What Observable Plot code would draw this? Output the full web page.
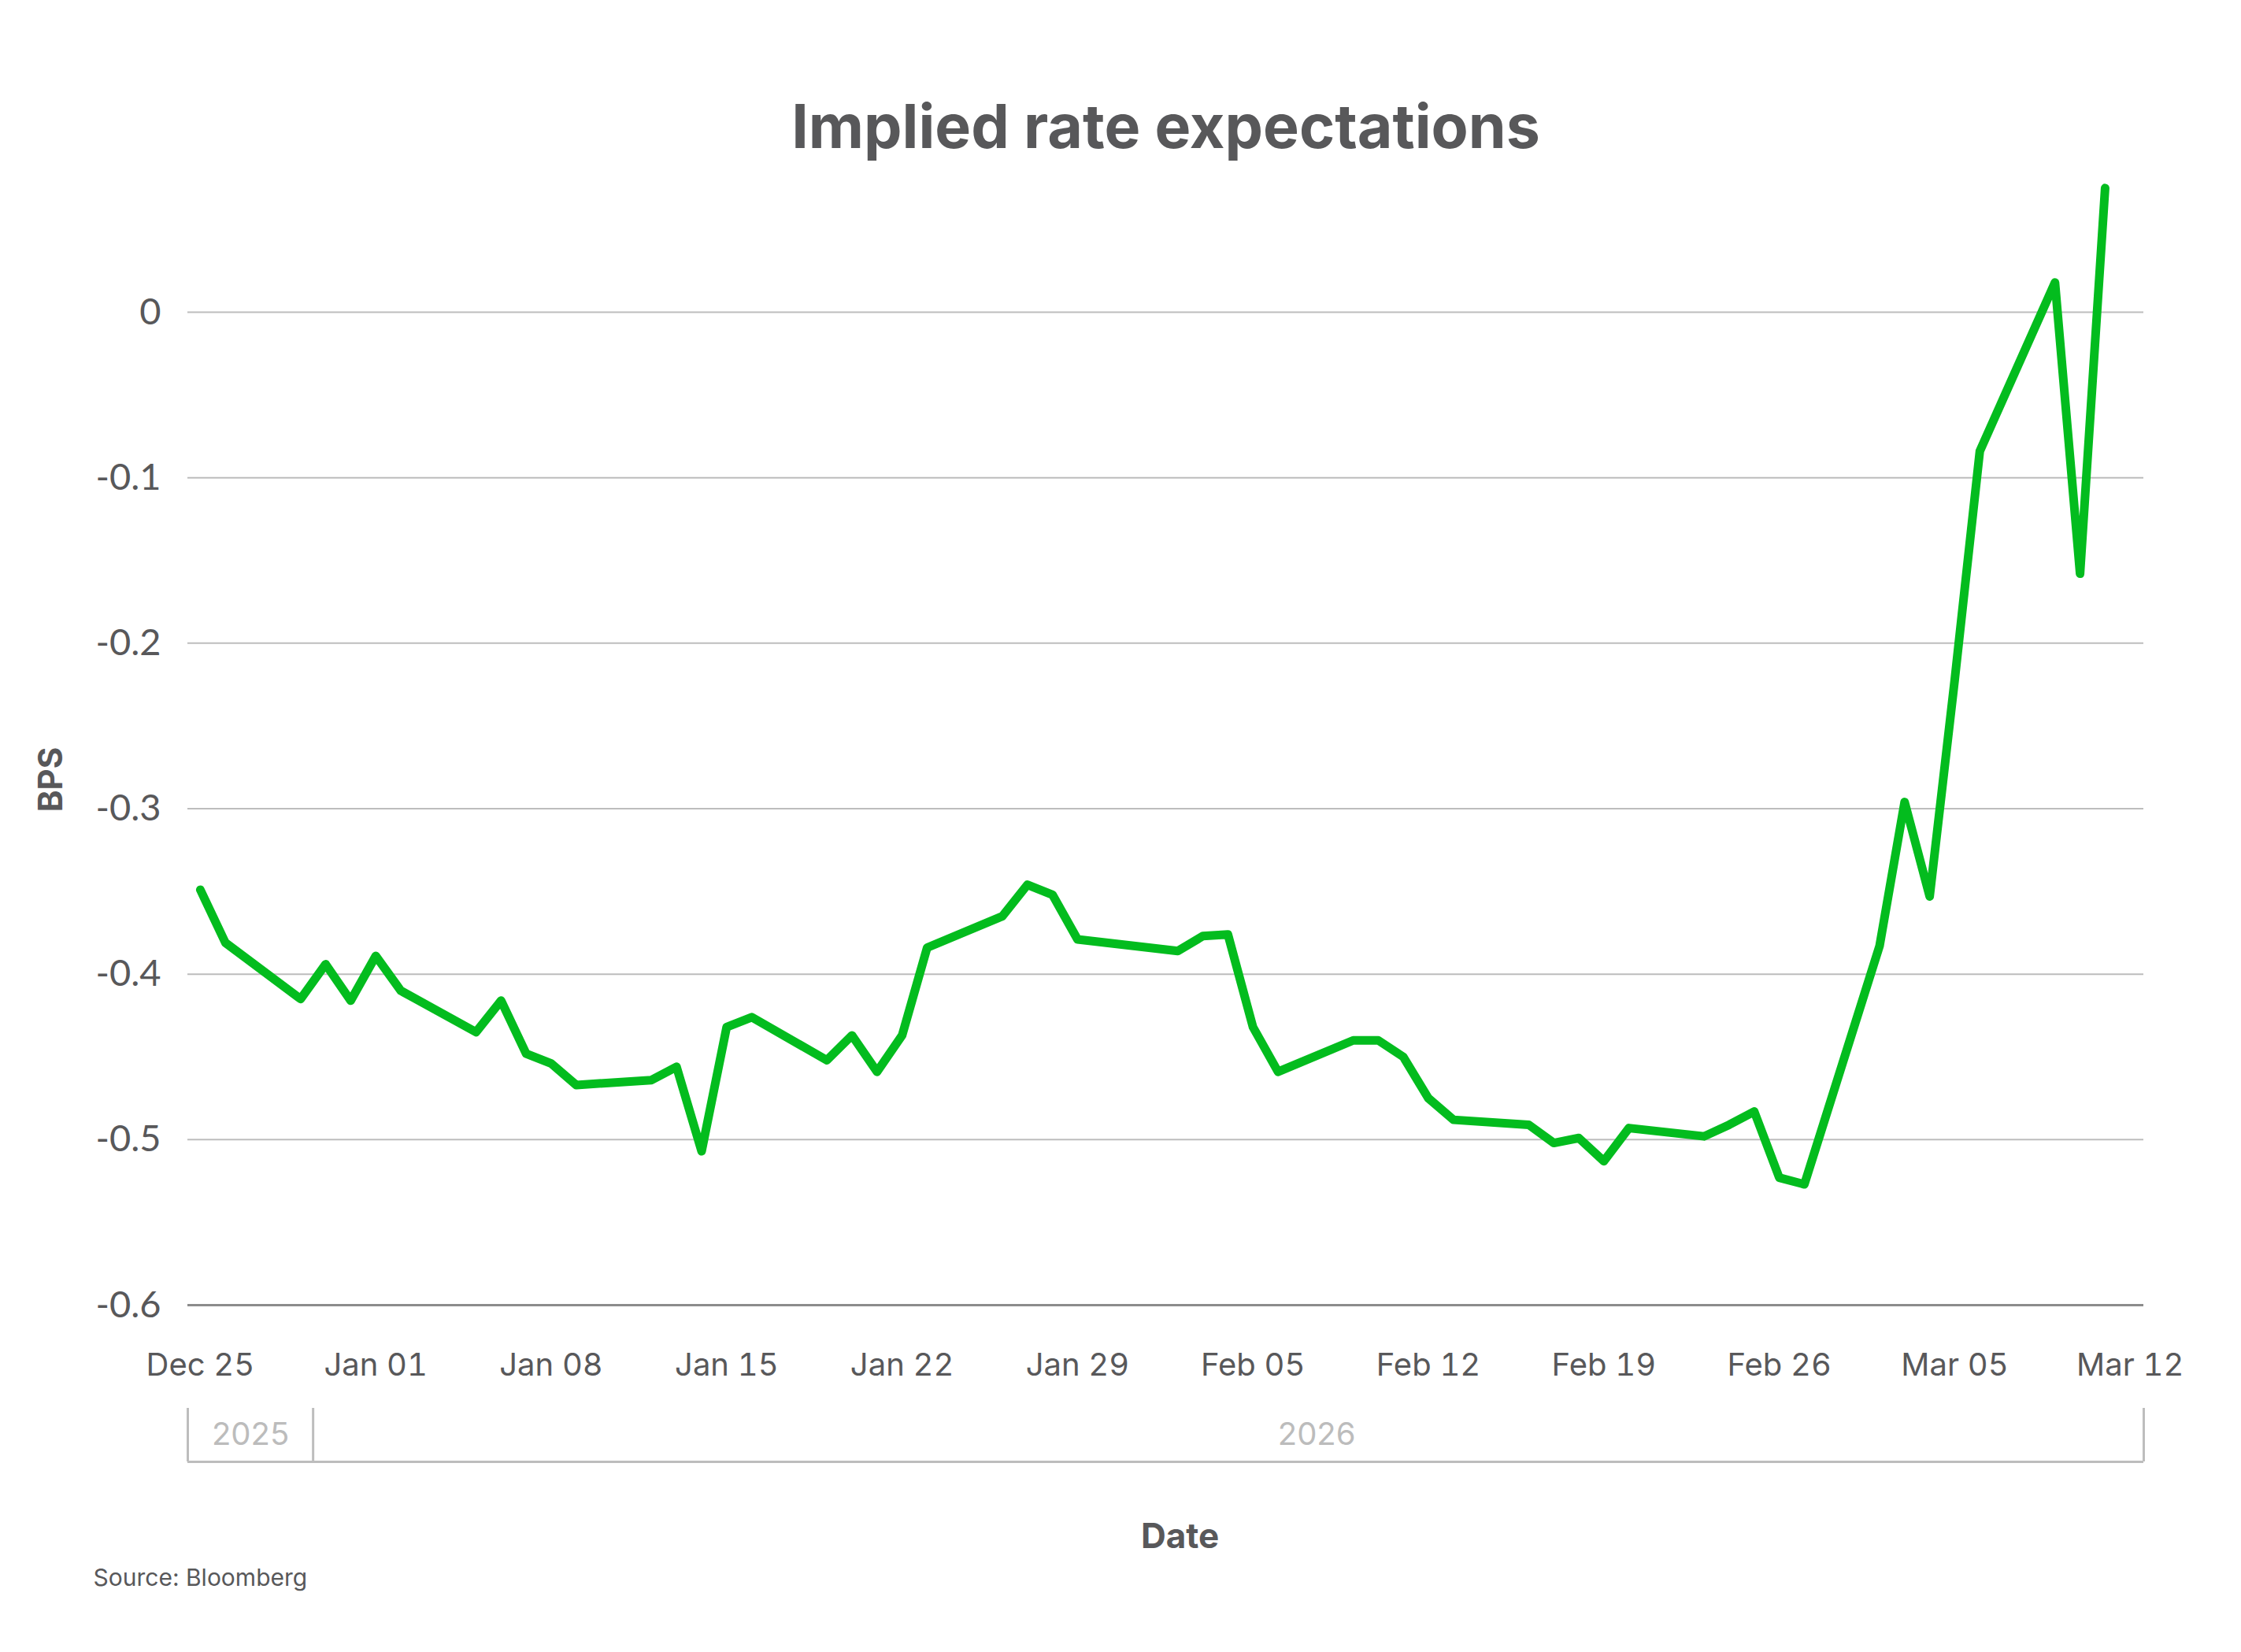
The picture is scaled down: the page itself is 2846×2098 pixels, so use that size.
<!DOCTYPE html>
<html>
<head>
<meta charset="utf-8">
<script src="https://cdn.jsdelivr.net/npm/d3@7"></script>
<script src="https://cdn.jsdelivr.net/npm/@observablehq/plot@0.6"></script>
<style>
  html, body { margin: 0; padding: 0; background: #fff; }
  #chart { width: 2846px; height: 2098px; }
</style>
</head>
<body>
<div id="chart"></div>
<script>
// ---- data ----
const dates = ["2025-12-25","2025-12-26","2025-12-29","2025-12-30","2025-12-31","2026-01-01","2026-01-02",
  "2026-01-05","2026-01-06","2026-01-07","2026-01-08","2026-01-09","2026-01-12","2026-01-13","2026-01-14",
  "2026-01-15","2026-01-16","2026-01-19","2026-01-20","2026-01-21","2026-01-22","2026-01-23","2026-01-26",
  "2026-01-27","2026-01-28","2026-01-29","2026-02-02","2026-02-03","2026-02-04","2026-02-05","2026-02-06",
  "2026-02-09","2026-02-10","2026-02-11","2026-02-12","2026-02-13","2026-02-16","2026-02-17","2026-02-18",
  "2026-02-19","2026-02-20","2026-02-23","2026-02-24","2026-02-25","2026-02-26","2026-02-27","2026-03-02",
  "2026-03-03","2026-03-04","2026-03-05","2026-03-06","2026-03-09","2026-03-10","2026-03-11"];
const values = [-0.349,-0.381,-0.415,-0.394,-0.416,-0.389,-0.410,
  -0.435,-0.416,-0.448,-0.454,-0.467,-0.464,-0.456,-0.507,
  -0.432,-0.426,-0.452,-0.437,-0.459,-0.437,-0.384,-0.365,
  -0.346,-0.352,-0.379,-0.386,-0.377,-0.376,-0.432,-0.459,
  -0.440,-0.440,-0.450,-0.475,-0.488,-0.491,-0.502,-0.499,
  -0.513,-0.493,-0.498,-0.491,-0.483,-0.523,-0.527,-0.383,
  -0.296,-0.353,-0.222,-0.084,0.018,-0.158,0.075];
const yTicks = [0, -0.1, -0.2, -0.3, -0.4, -0.5, -0.6];
const xTickDates = ["2025-12-25","2026-01-01","2026-01-08","2026-01-15","2026-01-22","2026-01-29",
  "2026-02-05","2026-02-12","2026-02-19","2026-02-26","2026-03-05","2026-03-12"];
const yearLabels = ["2025", "2026"];
const yearLabelDates = ["2025-12-27T00:00Z", "2026-02-07T13:00Z"];
const yearEdges = ["2025-12-24T12:00Z", "2025-12-29T12:00Z", "2026-03-12T13:00Z"];
const titleText = "Implied rate expectations";
const yLabel = "BPS";
const xLabel = "Date";
const sourceText = "Source: Bloomberg";

// ---- tables built from the arrays ----
const series = dates.map((d, i) => ({date: new Date(d + "T00:00Z"), value: values[i]}));
const xTicks = xTickDates.map(d => new Date(d + "T00:00Z"));
const years = yearLabels.map((l, i) => ({label: l, date: new Date(yearLabelDates[i])}));
const edges = yearEdges.map(d => new Date(d));
const xDomain = [edges[0], edges[2]];

const ink = "#58585a";
const light = "#bdbdbd";
const font = "Inter, 'Noto Sans', sans-serif";

const W = 2846, H = 2098, mT = 396, mB = 441, mL = 238, mR = 124;
const frameH = H - mT - mB;

const plot = Plot.plot({
  width: W, height: H,
  marginTop: mT, marginBottom: mB, marginLeft: mL, marginRight: mR,
  style: {fontFamily: font, background: "#fff", overflow: "visible"},
  x: {type: "utc", domain: xDomain},
  y: {domain: [-0.6, 0]},
  marks: [
    Plot.ruleY(yTicks.filter(d => d !== -0.6), {stroke: light, strokeWidth: 2}),
    Plot.ruleY([-0.6], {stroke: "#8c8c8c", strokeWidth: 3}),
    Plot.axisY({ticks: yTicks, tickFormat: d => d === 0 ? "0" : d.toFixed(1), tickSize: 0, tickPadding: 34,
      fontSize: 47, fontFamily: "Lato, Inter, sans-serif", color: ink, label: null}),
    Plot.axisX({ticks: xTicks, tickFormat: d3.utcFormat("%b %d"), tickSize: 0, tickPadding: 61,
      fontSize: 40, color: ink, label: null}),
    // year bracket
    Plot.ruleX(edges, {x: d => d, stroke: light, strokeWidth: 3, insetTop: frameH + 131, insetBottom: -199}),
    Plot.ruleY([-0.6], {stroke: light, strokeWidth: 3, dy: 199}),
    Plot.text(years, {x: "date", text: "label", frameAnchor: "bottom", dy: 165, lineAnchor: "middle",
      fill: "#bcbcbc", fontSize: 40}),
    // data line
    Plot.line(series, {x: "date", y: "value", stroke: "#03bc1e", strokeWidth: 11,
      strokeLinejoin: "round", strokeLinecap: "round"}),
    // titles and labels
    Plot.text([titleText], {text: d => d, frameAnchor: "top", dy: -209, lineAnchor: "bottom",
      fontSize: 77, fontWeight: 700, fill: ink}),
    Plot.text([yLabel], {text: d => d, frameAnchor: "left", dx: -173, dy: -37, rotate: -90,
      textAnchor: "middle", lineAnchor: "middle", fontSize: 42, fontWeight: 700, fill: ink}),
    Plot.text([xLabel], {text: d => d, frameAnchor: "bottom", dx: 18, dy: 308, lineAnchor: "bottom",
      fontSize: 44, fontWeight: 700, fill: ink}),
    Plot.text([sourceText], {text: d => d, frameAnchor: "bottom-left", dx: -120, dy: 356,
      textAnchor: "start", lineAnchor: "bottom", fontSize: 30, fill: ink})
  ]
});
document.getElementById("chart").appendChild(plot);
</script>
</body>
</html>
